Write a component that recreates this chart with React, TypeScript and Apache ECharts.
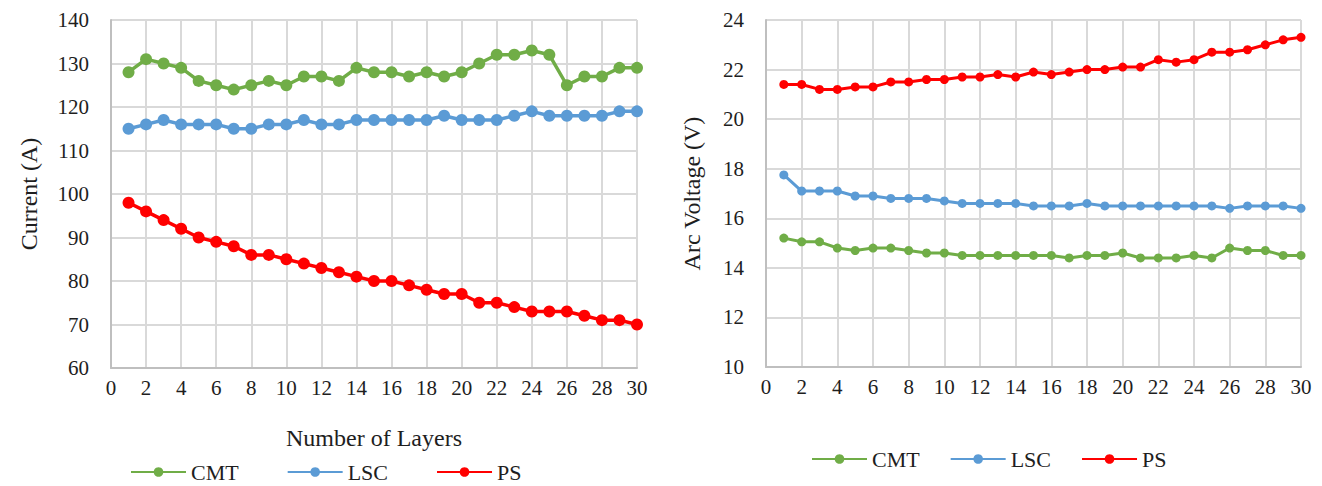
import React, { useEffect, useRef } from "react";
import * as echarts from "echarts";

const layers = [1, 2, 3, 4, 5, 6, 7, 8, 9, 10, 11, 12, 13, 14, 15, 16, 17, 18, 19, 20, 21, 22, 23, 24, 25, 26, 27, 28, 29, 30];

const currentCMT = [128, 131, 130, 129, 126, 125, 124, 125, 126, 125, 127, 127, 126, 129, 128, 128, 127, 128, 127, 128, 130, 132, 132, 133, 132, 125, 127, 127, 129, 129];
const currentLSC = [115, 116, 117, 116, 116, 116, 115, 115, 116, 116, 117, 116, 116, 117, 117, 117, 117, 117, 118, 117, 117, 117, 118, 119, 118, 118, 118, 118, 119, 119];
const currentPS = [98, 96, 94, 92, 90, 89, 88, 86, 86, 85, 84, 83, 82, 81, 80, 80, 79, 78, 77, 77, 75, 75, 74, 73, 73, 73, 72, 71, 71, 70];

const voltageCMT = [15.2, 15.05, 15.05, 14.8, 14.7, 14.8, 14.8, 14.7, 14.6, 14.6, 14.5, 14.5, 14.5, 14.5, 14.5, 14.5, 14.4, 14.5, 14.5, 14.6, 14.4, 14.4, 14.4, 14.5, 14.4, 14.8, 14.7, 14.7, 14.5, 14.5];
const voltageLSC = [17.75, 17.1, 17.1, 17.1, 16.9, 16.9, 16.8, 16.8, 16.8, 16.7, 16.6, 16.6, 16.6, 16.6, 16.5, 16.5, 16.5, 16.6, 16.5, 16.5, 16.5, 16.5, 16.5, 16.5, 16.5, 16.4, 16.5, 16.5, 16.5, 16.4];
const voltagePS = [21.4, 21.4, 21.2, 21.2, 21.3, 21.3, 21.5, 21.5, 21.6, 21.6, 21.7, 21.7, 21.8, 21.7, 21.9, 21.8, 21.9, 22.0, 22.0, 22.1, 22.1, 22.4, 22.3, 22.4, 22.7, 22.7, 22.8, 23.0, 23.2, 23.3];

const seriesNames = ["CMT", "LSC", "PS"];
const seriesColors = ["#70AD47", "#5B9BD5", "#FF0000"];

const FONT = "Times New Roman, Liberation Serif, DejaVu Serif, serif";
const TEXT = "#1e1e1e";
const GRIDC = "#D9D9D9";

const pair = (ys: number[]) => ys.map((y, i) => [layers[i], y]);

export default function App() {
  const ref = useRef<HTMLDivElement>(null);
  useEffect(() => {
    if (!ref.current) return;
    const chart = echarts.init(ref.current, undefined, { renderer: "svg" });
    const xAxisBase = (gridIndex: number, name: string) => ({
      type: "value",
      gridIndex,
      min: 0,
      max: 30,
      interval: 2,
      name,
      nameLocation: "middle",
      nameGap: 58,
      nameTextStyle: { fontFamily: FONT, fontSize: 24, color: TEXT },
      axisLine: { show: true, lineStyle: { color: "#BFBFBF", width: 2 } },
      axisTick: { show: false },
      axisLabel: { fontFamily: FONT, fontSize: 21, color: TEXT, margin: 9 },
      splitLine: { show: true, lineStyle: { color: GRIDC, width: 2 } },
    });
    const yAxisBase = (gridIndex: number, name: string, min: number, max: number, interval: number, nameGap: number) => ({
      type: "value",
      gridIndex,
      min,
      max,
      interval,
      name,
      nameLocation: "middle",
      nameGap,
      nameTextStyle: { fontFamily: FONT, fontSize: 24, color: TEXT },
      axisLine: { show: true, lineStyle: { color: "#BFBFBF", width: 2 } },
      axisTick: { show: false },
      axisLabel: { fontFamily: FONT, fontSize: 21, color: TEXT, margin: 22 },
      splitLine: { show: true, lineStyle: { color: GRIDC, width: 2 } },
    });
    const mk = (name: string, idx: number, data: number[], axis: number, size: number, w: number) => ({
      type: "line",
      name,
      xAxisIndex: axis,
      yAxisIndex: axis,
      data: pair(data),
      symbol: "circle",
      symbolSize: size,
      lineStyle: { color: seriesColors[idx], width: w },
      itemStyle: { color: seriesColors[idx] },
      z: 3,
    });
    const legendBase = {
      data: seriesNames,
      orient: "horizontal",
      itemWidth: 55,
      itemHeight: 12,
      textStyle: { fontFamily: FONT, fontSize: 22, color: TEXT },
      selectedMode: false,
    };
    chart.setOption({
      animation: false,
      backgroundColor: "#ffffff",
      textStyle: { fontFamily: FONT },
      grid: [
        { left: 111, top: 20, width: 526, height: 348 },
        { left: 766, top: 20, width: 535, height: 347 },
      ],
      xAxis: [xAxisBase(0, "Number of Layers"), { ...xAxisBase(1, ""), name: "" }],
      yAxis: [yAxisBase(0, "Current (A)", 60, 140, 10, 70), yAxisBase(1, "Arc Voltage (V)", 10, 24, 2, 62)],
      legend: [
        { ...legendBase, left: 125, top: 456, itemGap: 48 },
        { ...legendBase, left: 806, top: 443, itemGap: 30 },
      ],
      series: [
        mk("CMT", 0, currentCMT, 0, 12, 3.5),
        mk("LSC", 1, currentLSC, 0, 12, 3.5),
        mk("PS", 2, currentPS, 0, 12, 3.5),
        mk("CMT", 0, voltageCMT, 1, 9, 3),
        mk("LSC", 1, voltageLSC, 1, 9, 3),
        mk("PS", 2, voltagePS, 1, 9, 3),
      ],
    });
    return () => chart.dispose();
  }, []);
  return <div ref={ref} style={{ position: "absolute", left: 0, top: 0, width: 1322, height: 486 }} />;
}
